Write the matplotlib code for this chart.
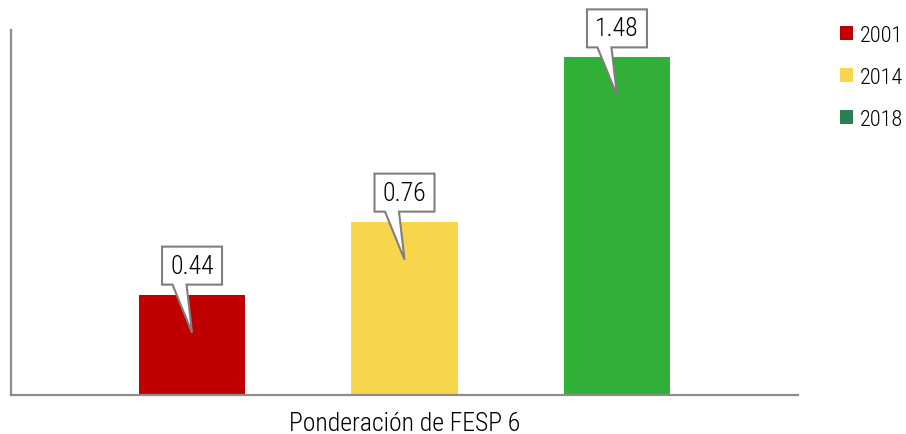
import matplotlib
matplotlib.use("Agg")
import matplotlib.pyplot as plt
from matplotlib.patches import Polygon, Patch
from matplotlib.transforms import IdentityTransform
from matplotlib import font_manager

# Data
years = ["2001", "2014", "2018"]
values = [0.44, 0.76, 1.48]
bar_colors = ["#C00000", "#F7D64E", "#30B036"]
legend_colors = ["#C00000", "#F7D64E", "#2A7F50"]
category_label = "Ponderación de FESP 6"

names = {f.name for f in font_manager.fontManager.ttflist}
family = "Liberation Sans"
for cand in ("Liberation Sans Narrow", "Arial Narrow", "Roboto Condensed", "Roboto"):
    if cand in names:
        family = cand
        break
plt.rcParams["font.family"] = [family, "DejaVu Sans"]
plt.rcParams["font.weight"] = "light"

DPI = 100
fig = plt.figure(figsize=(9.06, 4.35), dpi=DPI)
ax = fig.add_axes([11 / 906, 1 - 396 / 435, 787 / 906, 365 / 435])

positions = list(range(len(years)))
ax.bar(positions, values, width=0.503, color=bar_colors, zorder=2)

ax.set_xlim(1 - 1.852, 1 + 1.852)
ax.set_ylim(0, 1.6)
ax.set_xticks([])
ax.set_yticks([])
for side in ("top", "right"):
    ax.spines[side].set_visible(False)
for side in ("left", "bottom"):
    ax.spines[side].set_color("#8C8C8C")
    ax.spines[side].set_linewidth(1.6)

fig.text(405 / 906, 1 - 431 / 435, category_label, ha="center", va="baseline",
         fontsize=18.5, color="#000000")

# Callout boxes with a tail pointing into each bar
fig.canvas.draw()
for x, v in zip(positions, values):
    cx, ty = ax.transData.transform((x, v))
    bottom = ty + 10
    top = bottom + 38
    verts = [
        (cx - 30, bottom), (cx - 30, top), (cx + 30, top), (cx + 30, bottom),
        (cx - 5.5, bottom), (cx, ty - 38), (cx - 19.5, bottom),
    ]
    poly = Polygon(verts, closed=True, facecolor="white", edgecolor="#7F7F7F",
                   linewidth=1.5, transform=IdentityTransform(), zorder=5)
    fig.patches.append(poly)
    fx, fy = fig.transFigure.inverted().transform((cx, (bottom + top) / 2))
    fig.text(fx, fy, f"{v:.2f}", ha="center", va="center", fontsize=18.5,
             color="#000000", zorder=6)

handles = [Patch(facecolor=c, edgecolor="none") for c in legend_colors]
fig.legend(handles, years, loc="upper left", bbox_to_anchor=(840 / 906, 1 - 26 / 435),
           frameon=False, fontsize=16, handlelength=0.6, handleheight=0.6,
           handletextpad=0.3, labelspacing=0.95, borderaxespad=0, borderpad=0)

fig.savefig("out.png", dpi=DPI)
